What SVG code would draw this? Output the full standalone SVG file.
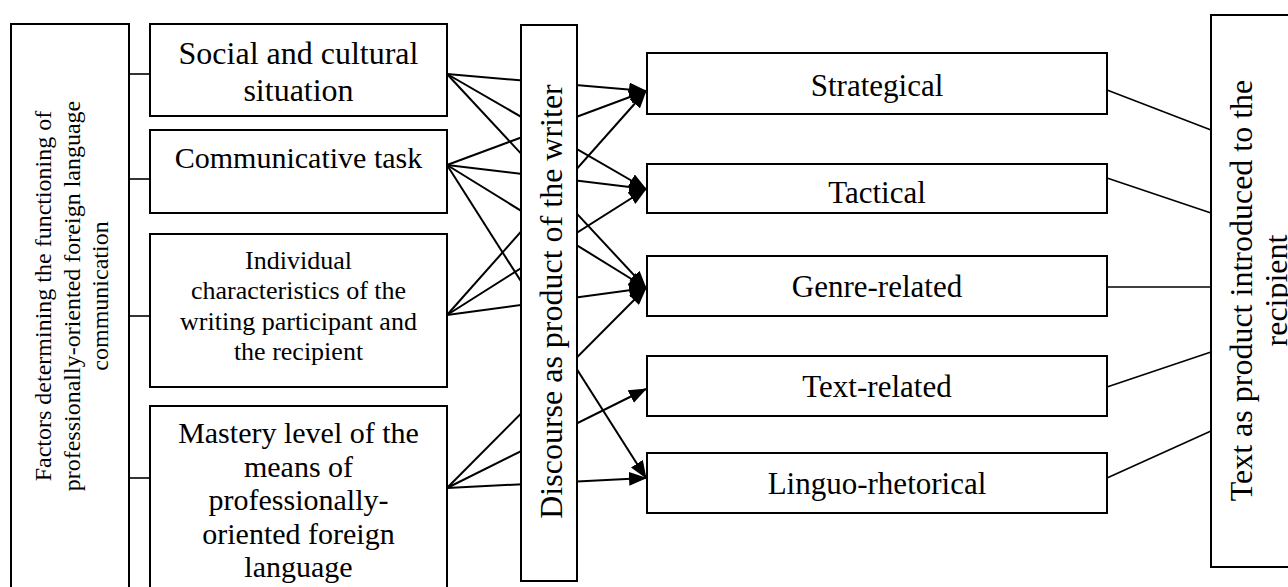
<svg xmlns="http://www.w3.org/2000/svg" width="1288" height="587" viewBox="0 0 1288 587">
<style>
.box{fill:#fff;stroke:#000;stroke-width:2}
.t{font-family:"Liberation Serif","Times New Roman",serif;fill:#000;text-anchor:middle}
.arr{stroke:#000;stroke-width:2;fill:none;marker-end:url(#ah)}
.ln{stroke:#000;stroke-width:1.6;fill:none}
</style>
<defs>
<marker id="ah" markerUnits="userSpaceOnUse" markerWidth="18" markerHeight="14" refX="17" refY="7" orient="auto">
<path d="M0,0 L18,7 L0,14 z" fill="#000"/>
</marker>
</defs>
<rect width="1288" height="587" fill="#fff"/>
<g id="connectors">
<line class="ln" x1="129" y1="74" x2="150" y2="74"/>
<line class="ln" x1="129" y1="179" x2="150" y2="179"/>
<line class="ln" x1="129" y1="316" x2="150" y2="316"/>
<line class="ln" x1="129" y1="478" x2="150" y2="478"/>
<line class="arr" x1="447" y1="74" x2="646" y2="91"/>
<line class="arr" x1="447" y1="74" x2="646" y2="189"/>
<line class="arr" x1="447" y1="74" x2="646" y2="288"/>
<line class="arr" x1="447" y1="165" x2="646" y2="91"/>
<line class="arr" x1="447" y1="165" x2="646" y2="189"/>
<line class="arr" x1="447" y1="165" x2="646" y2="288"/>
<line class="arr" x1="447" y1="165" x2="646" y2="478"/>
<line class="arr" x1="447" y1="315" x2="646" y2="91"/>
<line class="arr" x1="447" y1="315" x2="646" y2="189"/>
<line class="arr" x1="447" y1="315" x2="646" y2="288"/>
<line class="arr" x1="447" y1="488" x2="646" y2="288"/>
<line class="arr" x1="447" y1="488" x2="646" y2="389"/>
<line class="arr" x1="447" y1="488" x2="646" y2="478"/>
<line class="ln" x1="1107" y1="90" x2="1211" y2="130"/>
<line class="ln" x1="1107" y1="178" x2="1211" y2="213"/>
<line class="ln" x1="1107" y1="287" x2="1211" y2="287"/>
<line class="ln" x1="1107" y1="387" x2="1211" y2="352"/>
<line class="ln" x1="1107" y1="478" x2="1211" y2="431"/>
</g>
<g id="factors">
<rect class="box" x="11" y="24" width="118" height="580"/>
<text class="t" font-size="24" transform="translate(51,296) rotate(-90)"><tspan x="0" y="0">Factors determining the functioning of</tspan><tspan x="0" y="28.5">professionally-oriented foreign language</tspan><tspan x="0" y="57">communication</tspan></text>
</g>
<g id="social">
<rect class="box" x="150" y="24" width="297" height="92"/>
<text class="t" font-size="32" x="298.5" y="64">Social and cultural<tspan x="298.5" y="101">situation</tspan></text>
</g>
<g id="task">
<rect class="box" x="150" y="130" width="297" height="83"/>
<text class="t" font-size="30" x="298.5" y="168">Communicative task</text>
</g>
<g id="individual">
<rect class="box" x="150" y="234" width="297" height="153"/>
<text class="t" font-size="26" x="298.5" y="269">Individual<tspan x="298.5" y="299.3">characteristics of the</tspan><tspan x="298.5" y="329.6">writing participant and</tspan><tspan x="298.5" y="359.9">the recipient</tspan></text>
</g>
<g id="mastery">
<rect class="box" x="150" y="406" width="297" height="200"/>
<text class="t" font-size="30" x="298.5" y="443">Mastery level of the<tspan x="298.5" y="476.5">means of</tspan><tspan x="298.5" y="510">professionally-</tspan><tspan x="298.5" y="543.5">oriented foreign</tspan><tspan x="298.5" y="577">language</tspan></text>
</g>
<g id="discourse">
<rect class="box" x="521" y="25" width="56" height="556"/>
<text class="t" font-size="32" transform="translate(562,301.5) rotate(-90)">Discourse as product of the writer</text>
</g>
<g id="strategical">
<rect class="box" x="647" y="53" width="460" height="61"/>
<text class="t" font-size="31" x="877" y="96">Strategical</text>
</g>
<g id="tactical">
<rect class="box" x="647" y="164" width="460" height="49"/>
<text class="t" font-size="31" x="877" y="203">Tactical</text>
</g>
<g id="genre">
<rect class="box" x="647" y="256" width="460" height="60"/>
<text class="t" font-size="31" x="877" y="297">Genre-related</text>
</g>
<g id="textrel">
<rect class="box" x="647" y="356" width="460" height="60"/>
<text class="t" font-size="31" x="877" y="397">Text-related</text>
</g>
<g id="linguo">
<rect class="box" x="647" y="453" width="460" height="60"/>
<text class="t" font-size="31" x="877" y="494">Linguo-rhetorical</text>
</g>
<g id="textproduct">
<rect class="box" x="1211" y="15" width="100" height="552"/>
<text class="t" font-size="32" transform="translate(1252,290.5) rotate(-90)"><tspan x="0" y="0">Text as product introduced to the</tspan><tspan x="0" y="35">recipient</tspan></text>
</g>
</svg>
